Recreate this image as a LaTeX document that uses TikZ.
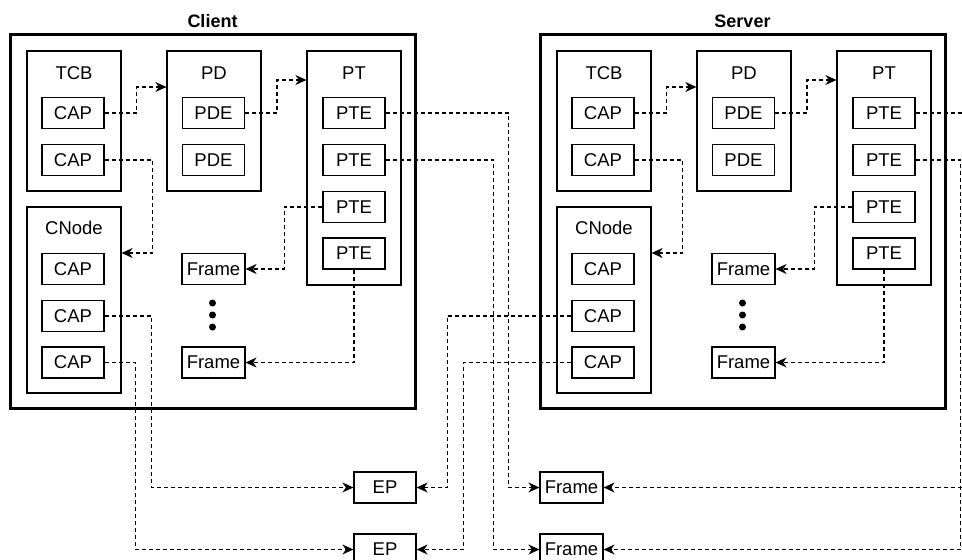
\documentclass[tikz,border=0pt]{standalone}
\usepackage{fontspec}
\setmainfont{Liberation Sans}
\usetikzlibrary{arrows.meta}

\begin{document}
\begin{tikzpicture}[x=1pt,y=-1pt,
  font=\fontsize{18.5}{21}\selectfont,
  outerbox/.style={draw, line width=3pt, minimum width=405, minimum height=374, inner sep=0},
  groupbox/.style={draw, line width=1.2pt, minimum width=94, inner sep=0},
  itembox/.style={draw, line width=1.2pt, minimum width=62, minimum height=31, inner sep=0},
  framebox/.style={itembox, minimum width=63},
  grouplabel/.style={inner sep=0},
  titlelabel/.style={inner sep=0, font=\fontsize{18}{21}\selectfont\bfseries},
  conn/.style={line width=1.3pt, dash pattern=on 4pt off 3pt,
    -{Stealth[length=11pt,width=10pt,inset=3.5pt]}},
  dotmark/.style={circle, fill, inner sep=0, minimum size=7}
]
\useasboundingbox (0,0) rectangle (962,560);

% two identical machines, side by side
\foreach \p/\dx/\name in {c/0/Client, s/530/Server}{
\begin{scope}[xshift=\dx]
  \node[titlelabel] (\p-title) at (212.5,21) {\name};
  \node[outerbox] (\p-box) at (212.5,221) {};

  % TCB with its capabilities
  \node[groupbox, minimum height=140] (\p-tcb) at (74,121) {};
  \node[grouplabel] (\p-tcbl) at (74,73) {TCB};
  \node[itembox] (\p-tcbcap1) at (73,113) {CAP};
  \node[itembox] (\p-tcbcap2) at (73,160) {CAP};

  % page directory
  \node[groupbox, minimum height=140] (\p-pd) at (214,121) {};
  \node[grouplabel] (\p-pdl) at (214,73) {PD};
  \node[itembox] (\p-pde1) at (213.5,113) {PDE};
  \node[itembox] (\p-pde2) at (213.5,160) {PDE};

  % page table
  \node[groupbox, minimum height=234] (\p-pt) at (354,168) {};
  \node[grouplabel] (\p-ptl) at (354,73) {PT};
  \node[itembox] (\p-pte1) at (354,113) {PTE};
  \node[itembox] (\p-pte2) at (354,160) {PTE};
  \node[itembox] (\p-pte3) at (354,207) {PTE};
  \node[itembox] (\p-pte4) at (354,253.5) {PTE};

  % CNode with its capabilities
  \node[groupbox, minimum height=186] (\p-cnode) at (74,300) {};
  \node[grouplabel] (\p-cnodel) at (74,228) {CNode};
  \node[itembox] (\p-cap1) at (73,269) {CAP};
  \node[itembox] (\p-cap2) at (73,316) {CAP};
  \node[itembox] (\p-cap3) at (73,362.5) {CAP};

  % frames
  \node[framebox] (\p-frame1) at (213.5,269) {Frame};
  \node[framebox] (\p-frame2) at (213.5,362.5) {Frame};
  \node[dotmark] (\p-dot1) at (212.5,303) {};
  \node[dotmark] (\p-dot2) at (212.5,315) {};
  \node[dotmark] (\p-dot3) at (212.5,327) {};

  % internal references
  \draw[conn] (\p-tcbcap1.east) -- ++(32,0) |- (\p-pd.west |- 0,87);
  \draw[conn] (\p-pde1.east) -- ++(32,0) |- (\p-pt.west |- 0,80);
  \draw[conn] (\p-tcbcap2.east) -- ++(48,0) |- (\p-cnode.east |- 0,253);
  \draw[conn] (\p-pte3.west) -- ++(-38,0) |- (\p-frame1.east);
  \draw[conn] (\p-pte4.south) |- (\p-frame2.east);
\end{scope}
}

% shared endpoints and frames below
\node[itembox] (ep1) at (385,487.5) {EP};
\node[itembox] (ep2) at (385,549.5) {EP};
\node[framebox] (fb1) at (571.5,487.5) {Frame};
\node[framebox] (fb2) at (571.5,549.5) {Frame};

% client side references
\draw[conn] (c-pte1.east) -| ([xshift=-31pt]fb1.west) -- (fb1.west);
\draw[conn] (c-pte2.east) -| ([xshift=-46pt]fb2.west) -- (fb2.west);
\draw[conn] (c-cap2.east) -| ([xshift=-202pt]ep1.west) -- (ep1.west);
\draw[conn] (c-cap3.east) -| ([xshift=-218pt]ep2.west) -- (ep2.west);

% server side references
\draw[conn] (s-pte1.east) -| ([xshift=372pt]fb1.east) -- (fb1.east);
\draw[conn] (s-pte2.east) -| ([xshift=357pt]fb2.east) -- (fb2.east);
\draw[conn] (s-cap2.west) -| ([xshift=31pt]ep1.east) -- (ep1.east);
\draw[conn] (s-cap3.west) -| ([xshift=47pt]ep2.east) -- (ep2.east);
\end{tikzpicture}
\end{document}
